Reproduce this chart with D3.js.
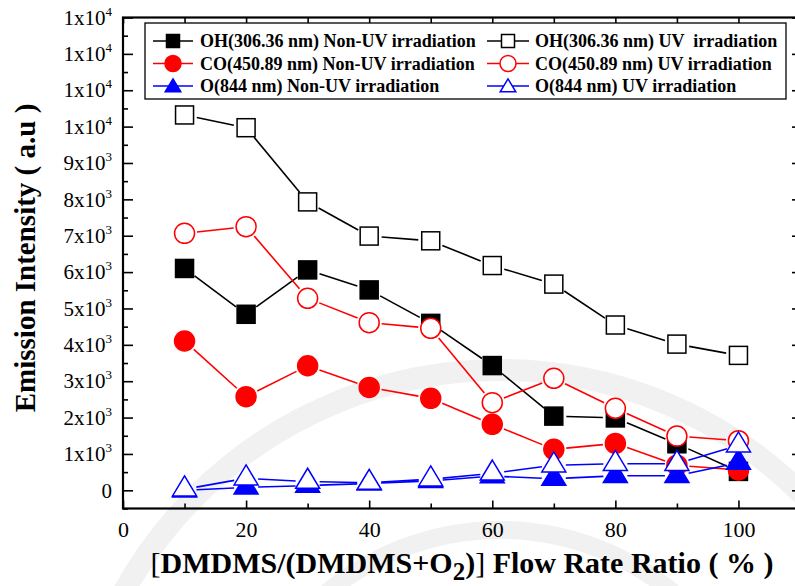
<!DOCTYPE html>
<html>
<head>
<meta charset="utf-8">
<script src="https://cdn.jsdelivr.net/npm/d3@7"></script>
<style>
  html, body { margin: 0; padding: 0; background: #fff; }
  svg { display: block; font-family: "Liberation Serif", "Times New Roman", serif; }
</style>
</head>
<body>
<div id="chart"></div>
<script>
// flow rate ratio (%)
const ratio = [10, 20, 30, 40, 50, 60, 70, 80, 90, 100];

// emission intensity (a.u.)
const ohNonUV = [6100, 4840, 6060, 5510, 4590, 3430, 2040, 1990, 1280, 520];
const coNonUV = [4105, 2575, 3425, 2830, 2530, 1815, 1127, 1290, 690, 560];
const oNonUV  = [0, 80, 130, 190, 260, 390, 320, 400, 400, 760];
const ohUV    = [10320, 9970, 7930, 6990, 6860, 6180, 5670, 4545, 4020, 3710];
const coUV    = [7065, 7250, 5280, 4610, 4455, 2410, 3080, 2255, 1490, 1365];
const oUV     = [30, 330, 240, 210, 305, 465, 690, 730, 730, 1240];

const xMajor = [0, 20, 40, 60, 80, 100];
const yMajor = d3.range(0, 13001, 1000);

const seriesNames = [
  "OH(306.36 nm) Non-UV irradiation",
  "CO(450.89 nm) Non-UV irradiation",
  "O(844 nm) Non-UV irradiation",
  "OH(306.36 nm) UV  irradiation",
  "CO(450.89 nm) UV irradiation",
  "O(844 nm) UV irradiation"
];

const W = 795, H = 586;
const x = d3.scaleLinear().domain([0, 110]).range([123, 800]);
const y = d3.scaleLinear().domain([-500, 13000]).range([508.5, 17.5]);

const svg = d3.select("div#chart").append("svg")
  .attr("width", W).attr("height", H);

// faint seal watermark behind the plot
const wm = svg.append("g").attr("fill", "none").attr("stroke", "#f1f1f1");
wm.append("circle").attr("cx", 500).attr("cy", 800).attr("r", 430).attr("stroke-width", 22);
wm.append("circle").attr("cx", 500).attr("cy", 800).attr("r", 270).attr("stroke-width", 18);

// series: drawn in this order (UV on top, as in the original)
const series = [
  { name: seriesNames[0], vals: ohNonUV, color: "#000", shape: "square", filled: true },
  { name: seriesNames[1], vals: coNonUV, color: "#f00", shape: "circle", filled: true },
  { name: seriesNames[2], vals: oNonUV,  color: "#00f", shape: "triangle", filled: true },
  { name: seriesNames[3], vals: ohUV,    color: "#000", shape: "square", filled: false },
  { name: seriesNames[4], vals: coUV,    color: "#f00", shape: "circle", filled: false },
  { name: seriesNames[5], vals: oUV,     color: "#00f", shape: "triangle", filled: false }
];

function drawMarker(g, shape, cx, cy, s, color, filled) {
  const fill = filled ? color : "#fff";
  if (shape === "square") {
    g.append("rect").attr("x", cx - s / 2).attr("y", cy - s / 2)
      .attr("width", s).attr("height", s)
      .attr("fill", fill).attr("stroke", color).attr("stroke-width", 1.5);
  } else if (shape === "circle") {
    g.append("circle").attr("cx", cx).attr("cy", cy).attr("r", s / 2)
      .attr("fill", fill).attr("stroke", color).attr("stroke-width", 1.5);
  } else {
    // anchored at the centroid
    const w = s * 1.2, h = s;
    g.append("path")
      .attr("d", `M${cx},${cy - h * 2 / 3}L${cx + w / 2},${cy + h / 3}L${cx - w / 2},${cy + h / 3}Z`)
      .attr("fill", fill).attr("stroke", color).attr("stroke-width", 1.5);
  }
}

const plot = svg.append("g");

series.forEach(sr => {
  const g = plot.append("g");
  const pts = ratio.map((r, i) => [x(r), y(sr.vals[i])]);
  const gap = sr.shape === "triangle" ? 12 : 12.5;
  // line segments stop short of the markers
  for (let i = 0; i < pts.length - 1; i++) {
    const [x1, y1] = pts[i], [x2, y2] = pts[i + 1];
    const len = Math.hypot(x2 - x1, y2 - y1);
    if (len <= gap * 2) continue;
    const ux = (x2 - x1) / len, uy = (y2 - y1) / len;
    g.append("line")
      .attr("x1", x1 + ux * gap).attr("y1", y1 + uy * gap)
      .attr("x2", x2 - ux * gap).attr("y2", y2 - uy * gap)
      .attr("stroke", sr.color).attr("stroke-width", 1.6);
  }
  const size = sr.shape === "square" ? 18 : 20;
  pts.forEach(p => drawMarker(g, sr.shape, p[0], p[1], size, sr.color, sr.filled));
});

// axes, ticks inward
const xAxis = svg.append("g").attr("transform", `translate(0,${y.range()[0]})`)
  .call(d3.axisBottom(x).tickValues(xMajor).tickSize(-8).tickPadding(12.6).tickFormat(d3.format("d")));
svg.append("g").attr("transform", `translate(0,${y.range()[0]})`)
  .call(d3.axisBottom(x).tickValues(d3.range(10, 111, 20)).tickSize(-5).tickFormat(""));
svg.append("g").attr("transform", `translate(0,${y.range()[1]})`)
  .call(d3.axisTop(x).tickValues(d3.range(0, 111, 10)).tickSize(-6).tickFormat(""));

const yAxis = svg.append("g").attr("transform", `translate(${x.range()[0]},0)`)
  .call(d3.axisLeft(y).tickValues(yMajor).tickSize(-10).tickPadding(11).tickFormat(""));
svg.append("g").attr("transform", `translate(${x.range()[0]},0)`)
  .call(d3.axisLeft(y).tickValues(d3.range(500, 13000, 1000).concat([-500])).tickSize(-5).tickFormat(""));
svg.append("g").attr("transform", `translate(${x.range()[1]},0)`)
  .call(d3.axisRight(y).tickValues(yMajor).tickSize(-8).tickFormat(""));
svg.append("g").attr("transform", `translate(${x.range()[1]},0)`)
  .call(d3.axisRight(y).tickValues(d3.range(500, 13000, 1000)).tickSize(-3).tickFormat(""));

svg.selectAll(".domain").remove();
svg.selectAll(".tick line").attr("stroke", "#000").attr("stroke-width", 1.6);

// frame
svg.append("rect")
  .attr("x", x.range()[0]).attr("y", y.range()[1])
  .attr("width", x.range()[1] - x.range()[0]).attr("height", y.range()[0] - y.range()[1])
  .attr("fill", "none").attr("stroke", "#000").attr("stroke-width", 2.2);

xAxis.selectAll(".tick text").attr("font-size", 22).attr("fill", "#000")
  .attr("font-family", "Liberation Serif, serif");

// y labels: 0, kx10^3 ... and the original's 1x10^4 repeated above 10^4
yAxis.selectAll(".tick text").each(function (d) {
  const t = d3.select(this).text("").attr("font-size", 21).attr("fill", "#000")
    .attr("font-family", "Liberation Serif, serif");
  if (d === 0) { t.text("0"); return; }
  const exp = d >= 10000 ? 4 : 3;
  const mant = d >= 10000 ? 1 : d / 1000;
  t.append("tspan").text(mant + "x10");
  t.append("tspan").attr("font-size", 13).attr("dy", -9).text(exp);
});

// axis titles
svg.append("text")
  .attr("transform", `translate(35,258) rotate(-90)`)
  .attr("text-anchor", "middle").attr("font-size", 29).attr("font-weight", "bold")
  .text("Emission Intensity ( a.u )");

const xt = svg.append("text")
  .attr("x", 462).attr("y", 573)
  .attr("text-anchor", "middle").attr("font-size", 30).attr("font-weight", "bold");
xt.append("tspan").attr("font-weight", "normal").text("[");
xt.append("tspan").text("DMDMS/(DMDMS+O");
xt.append("tspan").attr("font-size", 25).attr("dy", 7).text("2");
xt.append("tspan").attr("dy", -7).text(")");
xt.append("tspan").attr("font-weight", "normal").text("]");
xt.append("tspan").text(" Flow Rate Ratio ( % )");

// legend
const leg = svg.append("g");
leg.append("rect").attr("x", 145).attr("y", 23).attr("width", 641).attr("height", 76)
  .attr("fill", "#fff").attr("stroke", "#000").attr("stroke-width", 1.3);
const rowY = [41, 63.5, 86];
series.forEach((sr, i) => {
  const col = i < 3 ? 0 : 1;
  const cy = rowY[i % 3];
  const lx1 = col === 0 ? 153 : 487, lx2 = col === 0 ? 193 : 529;
  const cx = (lx1 + lx2) / 2;
  const g = leg.append("g");
  g.append("line").attr("x1", lx1).attr("x2", lx2).attr("y1", cy).attr("y2", cy)
    .attr("stroke", sr.color).attr("stroke-width", 1.6);
  drawMarker(g, sr.shape, cx, sr.shape === "triangle" ? cy + 1.5 : cy, sr.shape === "circle" ? 16 : 13, sr.color, sr.filled);
  g.append("text").attr("x", col === 0 ? 200 : 535).attr("y", cy).attr("dy", "0.35em")
    .attr("font-size", 18).attr("font-weight", "bold").style("white-space", "pre")
    .text(sr.name);
});
</script>
</body>
</html>
